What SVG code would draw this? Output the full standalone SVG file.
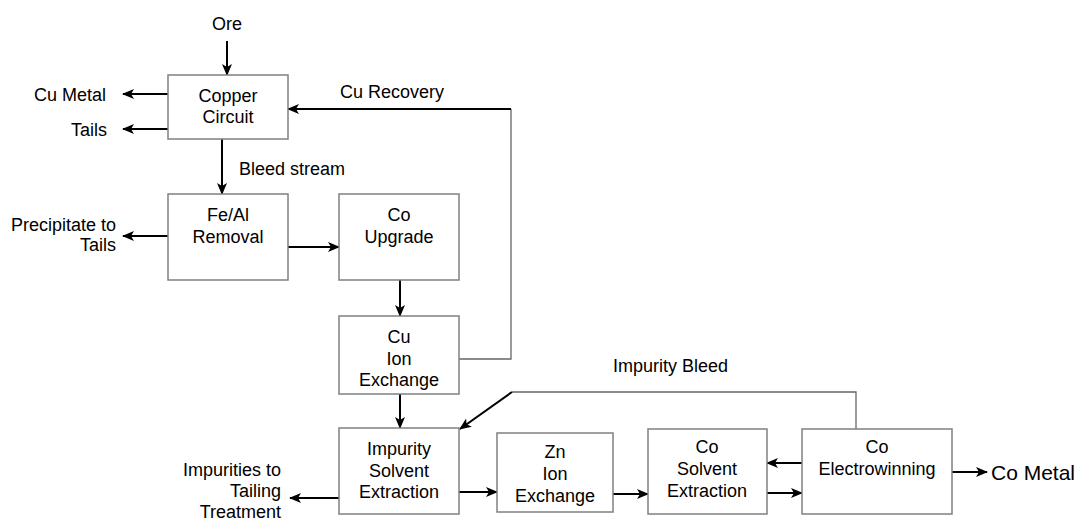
<svg xmlns="http://www.w3.org/2000/svg" width="1081" height="521" viewBox="0 0 1081 521">
<style>
.box{fill:#fff;stroke:#808080;stroke-width:1.5}
.t{font-family:"Liberation Sans",Arial,sans-serif;font-size:18px;fill:#000}
.c{text-anchor:middle}
.r{text-anchor:end}
.a{fill:none;stroke:#000;stroke-width:2;marker-end:url(#ah)}
.g{fill:none;stroke:#666;stroke-width:1.3}
</style>
<defs>
<marker id="ah" markerUnits="userSpaceOnUse" markerWidth="12" markerHeight="12" viewBox="0 0 12 12" refX="11" refY="6" orient="auto">
<path d="M0,1 L12,6 L0,11 L3,6 z" fill="#000"/>
</marker>
</defs>
<rect width="1081" height="521" fill="#fff"/>
<g id="connectors">
<path class="a" d="M227,41 V75"/>
<path class="a" d="M168,94 H123"/>
<path class="a" d="M168,129 H123"/>
<path class="a" d="M222,139 V194"/>
<path class="a" d="M168,236 H123"/>
<path class="a" d="M288,247 H339"/>
<path class="a" d="M400,280 V316"/>
<path class="g" d="M459,359 H511 V109"/>
<path class="a" d="M511,109 H288"/>
<path class="a" d="M400,394 V428"/>
<path class="g" d="M856,429 V392 H512"/>
<path class="a" d="M512,392 L460,429"/>
<path class="a" d="M339,498 H290"/>
<path class="a" d="M459,492 H497"/>
<path class="a" d="M613,494 H648"/>
<path class="a" d="M802,463 H767"/>
<path class="a" d="M767,493 H802"/>
<path class="a" d="M952,472 H987"/>
</g>
<g id="labels">
<text class="t c" x="227" y="30">Ore</text>
<text class="t r" x="106" y="101">Cu Metal</text>
<text class="t r" x="107" y="136">Tails</text>
<text class="t" x="239" y="175">Bleed stream</text>
<text class="t r" x="116" y="231">Precipitate to</text>
<text class="t r" x="116" y="251">Tails</text>
<text class="t" x="340" y="98">Cu Recovery</text>
<text class="t" x="613" y="372">Impurity Bleed</text>
<text class="t r" x="281" y="476">Impurities to</text>
<text class="t r" x="281" y="497">Tailing</text>
<text class="t r" x="281" y="518">Treatment</text>
<text class="t" x="991" y="480" style="font-size:21px">Co Metal</text>
</g>
<g id="copper-circuit">
<rect class="box" x="168" y="75" width="120" height="64"/>
<text class="t c" x="228" y="102">Copper</text>
<text class="t c" x="228" y="123">Circuit</text>
</g>
<g id="fe-al-removal">
<rect class="box" x="168" y="194" width="120" height="86"/>
<text class="t c" x="228" y="221">Fe/Al</text>
<text class="t c" x="228" y="243">Removal</text>
</g>
<g id="co-upgrade">
<rect class="box" x="339" y="194" width="120" height="86"/>
<text class="t c" x="399" y="221">Co</text>
<text class="t c" x="399" y="243">Upgrade</text>
</g>
<g id="cu-ion-exchange">
<rect class="box" x="339" y="316" width="120" height="78"/>
<text class="t c" x="399" y="343">Cu</text>
<text class="t c" x="399" y="365">Ion</text>
<text class="t c" x="399" y="386">Exchange</text>
</g>
<g id="impurity-sx">
<rect class="box" x="339" y="428" width="120" height="86"/>
<text class="t c" x="399" y="455">Impurity</text>
<text class="t c" x="399" y="477">Solvent</text>
<text class="t c" x="399" y="498">Extraction</text>
</g>
<g id="zn-ion-exchange">
<rect class="box" x="497" y="433" width="116" height="79"/>
<text class="t c" x="555" y="458">Zn</text>
<text class="t c" x="555" y="480">Ion</text>
<text class="t c" x="555" y="502">Exchange</text>
</g>
<g id="co-sx">
<rect class="box" x="648" y="429" width="119" height="85"/>
<text class="t c" x="707" y="453">Co</text>
<text class="t c" x="707" y="475">Solvent</text>
<text class="t c" x="707" y="497">Extraction</text>
</g>
<g id="co-ew">
<rect class="box" x="802" y="429" width="150" height="85"/>
<text class="t c" x="877" y="453">Co</text>
<text class="t c" x="877" y="475">Electrowinning</text>
</g>
</svg>
